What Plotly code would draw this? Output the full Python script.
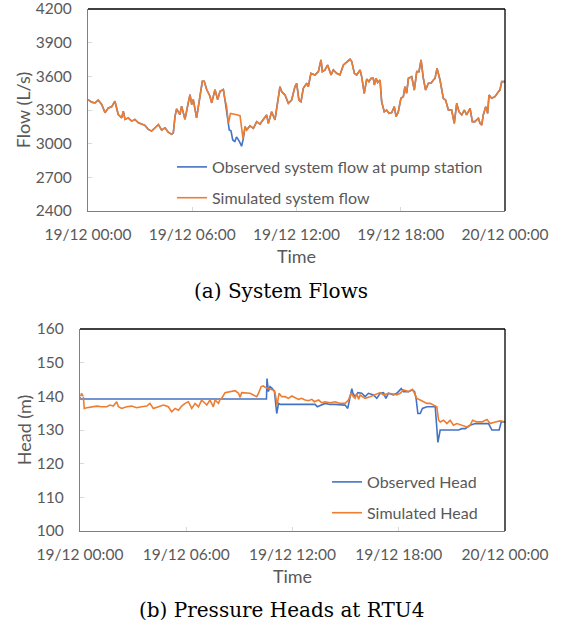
import plotly.graph_objects as go

# ---------------- data (hours since 19/12 00:00) ----------------
tick_hours = [0, 6, 12, 18, 24]
tick_labels = ["19/12 00:00", "19/12 06:00", "19/12 12:00", "19/12 18:00", "20/12 00:00"]

flow_sim_t = [0.00, 0.21, 0.40, 0.59, 0.79, 0.98, 1.17, 1.36, 1.55, 1.74, 1.94, 2.03, 2.13, 2.32, 2.51,
              2.70, 2.90, 3.09, 3.28, 3.47, 3.66, 3.86, 4.05, 4.24, 4.43, 4.62, 4.81, 4.91, 5.01, 5.10,
              5.29, 5.39, 5.58, 5.77, 5.87, 5.97, 6.06, 6.25, 6.45, 6.58, 6.69, 6.83, 7.02, 7.12, 7.31,
              7.46, 7.60, 7.79, 7.88, 7.98, 8.08, 8.20, 8.50, 8.75, 8.92, 9.04, 9.13, 9.32, 9.52, 9.71,
              9.90, 10.09, 10.28, 10.38, 10.57, 10.76, 10.86, 11.05, 11.15, 11.34, 11.53, 11.72, 11.91,
              12.01, 12.14, 12.26, 12.39, 12.59, 12.68, 12.83, 13.06, 13.26, 13.41, 13.49, 13.64, 13.79,
              13.99, 14.12, 14.31, 14.50, 14.70, 14.89, 15.08, 15.18, 15.33, 15.46, 15.66, 15.75, 15.90,
              16.04, 16.17, 16.29, 16.42, 16.48, 16.58, 16.67, 16.81, 16.90, 17.05, 17.19, 17.32, 17.48,
              17.63, 17.73, 17.86, 18.01, 18.15, 18.24, 18.34, 18.44, 18.63, 18.78, 18.92, 19.05, 19.17,
              19.30, 19.43, 19.59, 19.74, 19.88, 19.97, 20.09, 20.26, 20.45, 20.58, 20.74, 20.93, 21.08,
              21.22, 21.35, 21.51, 21.66, 21.79, 21.99, 22.12, 22.27, 22.47, 22.56, 22.66, 22.75, 22.89,
              23.00, 23.08, 23.23, 23.42, 23.62, 23.71, 23.81, 24.00]
flow_sim_v = [3393, 3370, 3363, 3387, 3349, 3275, 3319, 3328, 3378, 3260, 3230, 3290, 3216, 3230, 3201,
              3216, 3186, 3171, 3163, 3127, 3112, 3142, 3171, 3121, 3142, 3103, 3083, 3097, 3245, 3310,
              3260, 3334, 3216, 3363, 3437, 3349, 3393, 3230, 3452, 3556, 3556, 3482, 3423, 3363, 3482,
              3393, 3467, 3482, 3393, 3330, 3180, 3270, 3260, 3250, 3045, 3152, 3122, 3158, 3137, 3196,
              3175, 3211, 3256, 3181, 3285, 3211, 3330, 3508, 3463, 3434, 3360, 3389, 3508,
              3538, 3389, 3374, 3493, 3538, 3508, 3627, 3612, 3642, 3746, 3642, 3657, 3701,
              3612, 3657, 3627, 3612, 3701, 3731, 3752, 3731, 3627, 3612, 3657, 3597, 3449,
              3575, 3553, 3582, 3582, 3523, 3582, 3544, 3567, 3374, 3285, 3300, 3270, 3276,
              3330, 3241, 3285, 3404, 3419, 3508, 3449, 3582, 3597, 3478, 3642, 3642, 3746,
              3582, 3478, 3538, 3538, 3567, 3582, 3671, 3567, 3404, 3389, 3300, 3300, 3181,
              3360, 3285, 3256, 3300, 3256, 3315, 3196, 3196, 3226, 3181, 3166, 3256, 3330,
              3270, 3434, 3404, 3419, 3463, 3478, 3553, 3553]

# observed pump-station flow: identical to the simulated trace except this window
flow_obs_window_t = [7.98, 8.13, 8.23, 8.33, 8.45, 8.55, 8.71, 8.84, 8.94]
flow_obs_window_v = [3300, 3122, 3115, 3033, 3020, 3060, 3020, 2977, 3045]

head_sim_t = [0.00, 0.09, 0.19, 0.24, 0.38, 0.66, 0.94, 1.22, 1.51, 1.69, 1.88, 2.07, 2.17, 2.35, 2.64,
              2.92, 3.20, 3.48, 3.77, 3.95, 4.14, 4.43, 4.71, 4.99, 5.18, 5.37, 5.56, 5.74, 5.93, 6.12,
              6.31, 6.50, 6.69, 6.87, 7.16, 7.34, 7.53, 7.63, 7.72, 7.82, 7.91, 8.00, 8.19, 8.47, 8.76,
              8.95, 9.04, 9.13, 9.42, 9.60, 9.79, 9.98, 10.08, 10.23, 10.36, 10.45, 10.64, 10.83, 10.98,
              11.05, 11.13, 11.24, 11.39, 11.58, 11.77, 11.96, 12.15, 12.34, 12.52, 12.71, 12.90, 13.09,
              13.24, 13.47, 13.65, 13.84, 14.12, 14.41, 14.69, 14.97, 15.16, 15.31, 15.44, 15.54, 15.63,
              15.73, 15.82, 15.91, 16.10, 16.38, 16.67, 16.95, 17.14, 17.42, 17.70, 17.89, 18.08, 18.27,
              18.55, 18.78, 18.89, 19.02, 19.21, 19.40, 19.59, 19.77, 19.96, 20.15, 20.25, 20.34, 20.53,
              20.72, 20.90, 21.09, 21.28, 21.56, 21.85, 22.03, 22.17, 22.41, 22.69, 22.98, 23.16, 23.45,
              23.73, 24.00]
head_sim_v = [139.4, 140.9, 139.9, 136.4, 136.6, 136.9, 137.1, 136.9, 136.9, 137.4, 137.1, 138.4, 136.9, 136.4, 136.9,
              137.1, 136.6, 136.9, 137.1, 137.9, 136.4, 136.9, 137.4, 136.9, 135.4, 136.4, 135.9, 137.1, 137.9, 138.4,
              136.4, 137.9, 136.9, 138.9, 137.4, 138.9, 136.9, 138.9, 138.4, 137.9, 139.1, 139.4, 141.1, 141.4, 141.7,
              140.9, 139.7, 141.1, 141.1, 140.9, 140.4, 139.9, 140.9, 142.9, 143.1, 142.7, 142.3, 141.9, 141.7,
              139.9, 137.4, 140.9, 139.9, 139.9, 139.4, 140.1, 139.7, 139.1, 139.4, 138.9, 138.7, 139.1,
              138.4, 138.9, 138.1, 138.4, 138.1, 138.4, 137.9, 137.9, 138.9, 140.9, 139.9, 139.4, 140.9,
              139.1, 140.4, 140.1, 139.4, 139.9, 140.4, 141.1, 140.4, 140.9, 140.7, 140.4, 140.9, 141.9,
              141.4, 142.1, 140.9, 139.4, 138.9, 138.4, 137.9, 137.9, 137.4, 136.9, 132.9, 132.4, 132.9,
              131.9, 132.9, 131.4, 131.9, 131.4, 130.9, 131.4, 132.9, 132.4, 132.4, 133.1, 131.9, 132.4,
              132.7, 132.4]

head_obs_t = [0.00, 10.53, 10.56, 10.64, 10.73, 10.86, 10.98, 11.11, 11.21, 11.30, 13.28, 13.40, 13.84, 14.12,
              14.41, 14.97, 15.12, 15.22, 15.35, 15.41, 15.54, 15.69, 15.91, 16.10, 16.29, 16.57, 16.76, 16.95,
              17.14, 17.27, 17.42, 17.70, 17.89, 18.14, 18.27, 18.55, 18.74, 18.89, 18.98, 19.08, 19.21, 19.34,
              19.59, 20.06, 20.13, 20.21, 20.34, 21.38, 21.56, 21.75, 22.03, 22.32, 23.07, 23.26, 23.67, 23.79,
              24.00]
head_obs_v = [139.2, 139.2, 145.3, 141.4, 142.9, 142.3, 141.4, 134.9, 137.9, 137.6, 137.6, 136.9, 137.9, 137.6,
              137.6, 137.4, 136.4, 138.9, 142.3, 140.9, 139.9, 141.1, 140.9, 139.9, 140.9, 140.4, 139.4, 140.9,
              141.1, 139.4, 140.9, 140.4, 140.9, 142.3, 141.4, 141.4, 141.9, 141.4, 139.4, 134.9, 134.9, 136.4,
              136.9, 136.9, 130.9, 126.3, 130.0, 130.0, 130.4, 130.4, 131.4, 131.9, 131.9, 130.0, 130.0, 132.4,
              132.4]

# build observed flow series from the overlapping parts plus the diverging window
flow_obs_t, flow_obs_v = [], []
for t, v in zip(flow_sim_t, flow_sim_v):
    if t < flow_obs_window_t[0]:
        flow_obs_t.append(t); flow_obs_v.append(v)
flow_obs_t += flow_obs_window_t
flow_obs_v += flow_obs_window_v
for t, v in zip(flow_sim_t, flow_sim_v):
    if t > flow_obs_window_t[-1]:
        flow_obs_t.append(t); flow_obs_v.append(v)

# ---------------- styling ----------------
BLUE = "#4472C4"
ORANGE = "#ED7D31"
GREY = "#595959"
W, H = 563, 626
FONT = "Lato"

fig = go.Figure()
fig.add_trace(go.Scatter(x=flow_obs_t, y=flow_obs_v, mode="lines", name="Observed system flow at pump station",
                         line=dict(color=BLUE, width=1.6), xaxis="x", yaxis="y", legend="legend",
                         legendgroup="a1"))
fig.add_trace(go.Scatter(x=flow_sim_t, y=flow_sim_v, mode="lines", name="Simulated system flow",
                         line=dict(color=ORANGE, width=1.6), xaxis="x", yaxis="y", legend="legend",
                         legendgroup="a2"))
fig.add_trace(go.Scatter(x=head_obs_t, y=head_obs_v, mode="lines", name="Observed Head",
                         line=dict(color=BLUE, width=1.6), xaxis="x2", yaxis="y2", legend="legend2",
                         legendgroup="b1"))
fig.add_trace(go.Scatter(x=head_sim_t, y=head_sim_v, mode="lines", name="Simulated Head",
                         line=dict(color=ORANGE, width=1.6), xaxis="x2", yaxis="y2", legend="legend2",
                         legendgroup="b2"))

def xaxis(domain, anchor):
    return dict(domain=domain, anchor=anchor, range=[0, 24], tickvals=tick_hours, ticktext=tick_labels,
                showgrid=False, zeroline=False, showline=True, linecolor="#7f7f7f", linewidth=1.3,
                ticks="inside", ticklen=4, tickcolor="#d9d9d9", ticklabelstandoff=9,
                ticklabeloverflow="allow",
                tickfont=dict(family=FONT, size=15.5, color=GREY),
                title=dict(text="Time", font=dict(family=FONT, size=18, color=GREY), standoff=8))

def yaxis(domain, anchor, rng, dt, title):
    return dict(domain=domain, anchor=anchor, range=rng, dtick=dt, tick0=rng[0],
                showgrid=False, zeroline=False, showline=True, linecolor="#7f7f7f", linewidth=1.3,
                ticks="inside", ticklen=4, tickcolor="#d9d9d9", ticklabelstandoff=12,
                ticklabeloverflow="allow",
                tickfont=dict(family=FONT, size=15.5, color=GREY),
                title=dict(text=title, font=dict(family=FONT, size=18, color=GREY), standoff=0))

legend_common = dict(font=dict(family=FONT, size=16, color=GREY), bgcolor="rgba(0,0,0,0)",
                     itemwidth=30, tracegroupgap=7, traceorder="grouped", xanchor="left", yanchor="top")

fig.update_layout(
    width=W, height=H, margin=dict(l=0, r=0, t=0, b=0, autoexpand=False),
    paper_bgcolor="white", plot_bgcolor="white",
    xaxis=xaxis([88 / W, 505 / W], "y"),
    yaxis=yaxis([1 - 211 / H, 1 - 9 / H], "x", [2400, 4200], 300, "Flow (L/s)"),
    xaxis2=xaxis([80 / W, 505 / W], "y2"),
    yaxis2=yaxis([1 - 531 / H, 1 - 329 / H], "x2", [100, 160], 10, "Head (m)"),
    legend=dict(x=172 / W, y=1 - 150 / H, **legend_common),
    legend2=dict(x=327 / W, y=1 - 465 / H, **legend_common),
    showlegend=True,
)

# black plot-area border on top and right (Excel style)
for xr, yr in (("x domain", "y domain"), ("x2 domain", "y2 domain")):
    fig.add_shape(type="line", xref=xr, yref=yr, x0=0, x1=1, y0=1, y1=1, line=dict(color="black", width=1.3))
    fig.add_shape(type="line", xref=xr, yref=yr, x0=1, x1=1, y0=0, y1=1, line=dict(color="black", width=1.3))

# sub-figure captions
fig.add_annotation(text="(a) System Flows", x=281 / W, y=1 - 291 / H, xref="paper", yref="paper",
                   xanchor="center", yanchor="middle",
                   showarrow=False, font=dict(family="DejaVu Serif", size=20, color="black"))
fig.add_annotation(text="(b) Pressure Heads at RTU4", x=281.5 / W, y=1 - 610 / H, xref="paper", yref="paper",
                   xanchor="center", yanchor="middle",
                   showarrow=False, font=dict(family="DejaVu Serif", size=20, color="black"))

fig.write_html("out.html", config={"displayModeBar": False},
               post_script="document.body.style.margin='0px';")
